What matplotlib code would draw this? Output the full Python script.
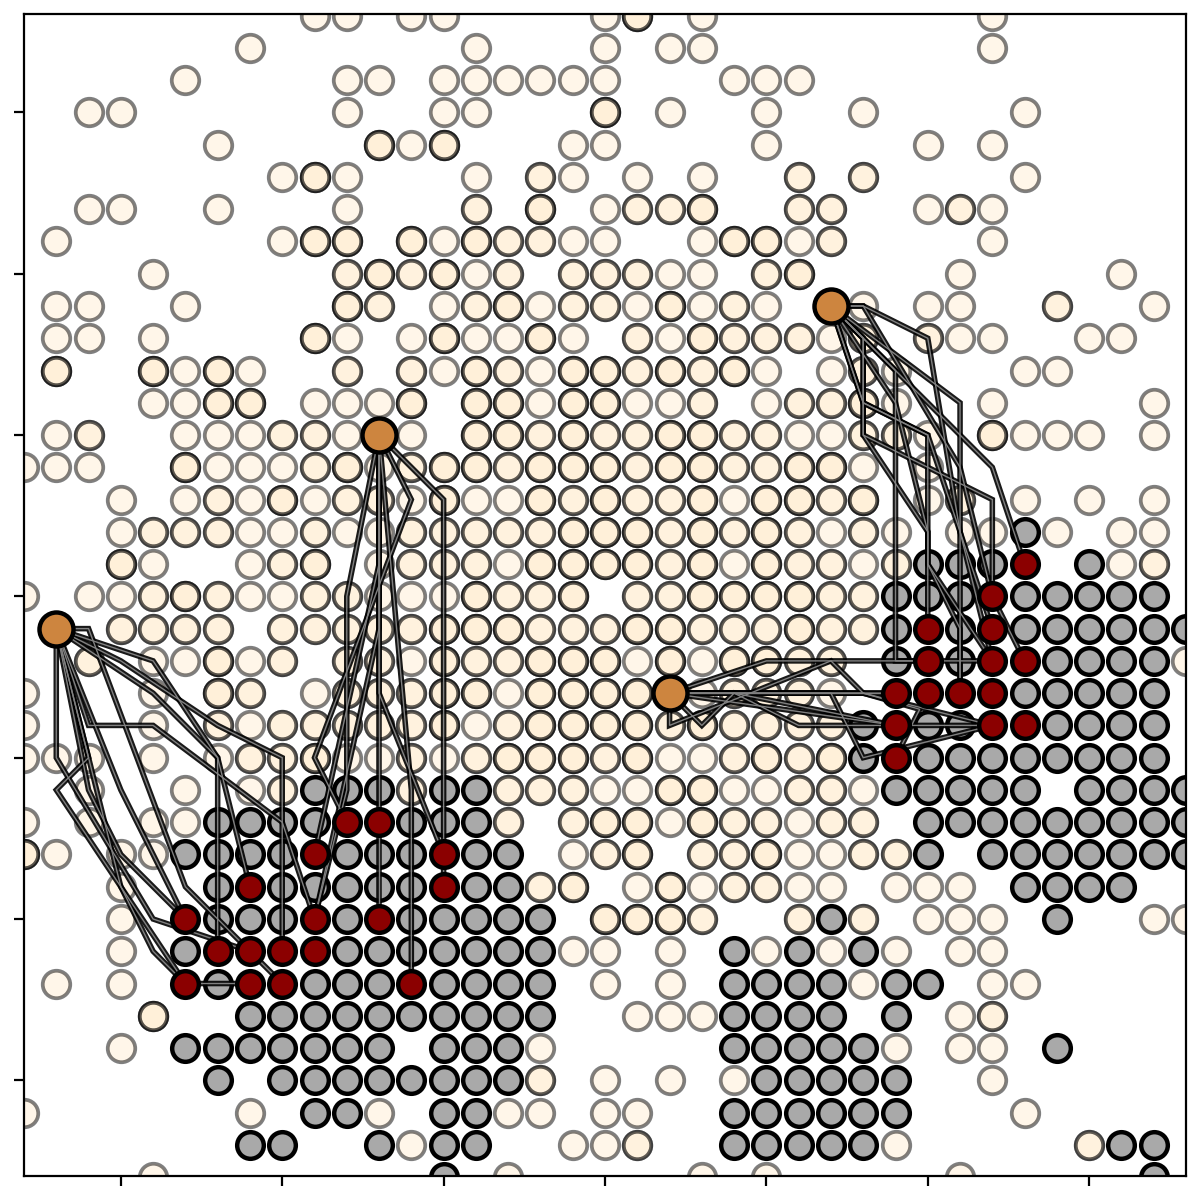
import matplotlib
matplotlib.use("Agg")
import matplotlib.pyplot as plt

# visited cells, row index -> column indices, by how many times they are overplotted
once = {
    38: [11, 12, 14, 15, 20, 23, 32],
    37: [9, 16, 20, 22, 23, 32],
    36: [7, 12, 13, 15, 16, 17, 18, 19, 20, 24, 25, 26],
    35: [4, 5, 12, 15, 16, 22, 25, 28, 33],
    34: [8, 14, 19, 20, 25, 30, 32],
    33: [10, 12, 16, 19, 21, 23, 33],
    32: [4, 5, 8, 12, 20, 30, 32],
    31: [3, 10, 15, 19, 20, 23, 26, 32],
    30: [6, 16, 22, 23, 31, 36],
    29: [3, 4, 7, 15, 18, 21, 23, 25, 28, 30, 31, 37],
    28: [3, 4, 6, 12, 14, 16, 17, 19, 22, 27, 31, 32, 35, 36],
    27: [7, 9, 15, 18, 25, 27, 29, 33, 34],
    26: [6, 7, 11, 12, 13, 18, 21, 22, 25, 29, 32, 37],
    25: [3, 7, 8, 9, 12, 14, 26, 27, 30, 33, 34, 35, 37],
    24: [2, 3, 4, 8, 9, 10, 13, 28, 30],
    23: [5, 7, 9, 11, 14, 16, 17, 24, 30, 33, 35, 37],
    22: [5, 9, 10, 12, 13, 27, 29, 31, 32, 34, 36, 37],
    21: [6, 9, 13, 17, 24, 28, 36],
    20: [2, 4, 5, 9, 10, 13, 14, 15],
    18: [6, 7, 9, 14, 21, 23, 38],
    17: [2, 6, 11, 17, 23, 27],
    16: [2, 6, 9, 16],
    15: [2, 3, 4, 6, 8, 12, 13, 15, 22, 23],
    14: [4, 7, 9, 20, 21, 24, 25, 28],
    13: [2, 4, 6, 7, 22, 26],
    12: [3, 5, 6, 19, 26, 27],
    11: [5, 21, 23, 26, 27, 29, 30, 31],
    10: [5, 30, 31, 32, 37, 38],
    9: [5, 19, 20, 22, 25, 27, 29, 31, 32],
    8: [3, 5, 20, 22, 28, 32, 33],
    7: [21, 22, 23, 31],
    6: [5, 18, 29, 31, 32],
    5: [20, 22, 24, 32],
    4: [2, 9, 13, 17, 18, 20, 21, 33],
    3: [14, 19, 20, 29],
    2: [6, 17, 23, 25, 31],
}
twice = {
    33: [18, 26, 28],
    32: [16, 21, 22, 26, 27, 31],
    31: [17, 18, 27],
    30: [12, 14, 17, 19, 20, 21, 25],
    29: [13, 16, 19, 20, 24, 34],
    28: [21, 24, 25, 26, 28, 30],
    27: [12, 14, 17, 21, 23, 28],
    26: [23, 26, 27],
    25: [4, 10, 11, 18, 20, 21, 24, 25, 28, 29],
    24: [11, 14, 17, 21, 24, 25],
    23: [8, 12, 13, 19, 21, 22, 27, 31],
    22: [6, 7, 8, 11, 14, 15, 16, 17, 18, 22, 24, 26, 28],
    21: [10, 14, 15, 16, 22, 26, 27, 29, 37],
    20: [6, 8, 11, 12, 17, 18, 21, 22, 27, 28],
    19: [5, 6, 7, 8, 10, 11, 12, 13, 14, 18, 19, 20, 23, 24, 25, 27, 28],
    18: [4, 10, 12, 13, 16, 17, 26, 27],
    17: [9, 12, 13, 14, 24, 25, 26],
    16: [8, 10, 11, 12, 13, 14, 17, 22, 24, 25, 26, 27],
    15: [9, 10, 14, 16, 20, 24, 26],
    14: [10, 14, 17, 18, 19, 26, 27],
    13: [17, 19, 24, 25, 27, 28],
    12: [20, 23, 24, 28, 29],
    11: [18, 24, 25],
    10: [23, 26, 28],
    7: [32],
    5: [18],
    3: [21, 35],
}
thrice = {
    38: [21],
    35: [20],
    34: [13, 15],
    33: [11],
    32: [18, 23],
    31: [11, 12, 14, 16, 24, 25],
    30: [13, 15, 26],
    29: [12, 17, 22],
    28: [11, 15, 18, 23],
    27: [3, 6, 8, 16, 19, 20, 22, 24],
    26: [8, 9, 14, 16, 17, 19, 20, 28],
    25: [16, 17, 19, 22, 23, 32],
    24: [7, 12, 15, 16, 18, 19, 20, 22, 23, 26, 27],
    23: [10, 15, 18, 20, 23, 25, 26, 28],
    22: [19, 20, 21, 23, 25],
    21: [5, 11, 18, 19, 20, 21, 23, 25],
    20: [7, 16, 19, 23, 24, 25, 26],
    19: [15, 16, 17, 21, 22, 26],
    18: [8, 15, 18, 19, 20, 22, 24, 25],
    17: [8, 15, 16, 18, 19, 20, 21],
    16: [15, 18, 19, 20, 21, 23],
    15: [11, 17, 18, 19, 21, 25, 27],
    14: [22, 23],
    13: [20, 21, 23],
    12: [2, 21, 25],
    11: [19, 22],
    10: [20, 21, 22],
    7: [6],
}
gray = {
    22: [33],
    21: [30, 31, 32, 35],
    20: [29, 30, 31, 33, 34, 35, 36, 37],
    19: [29, 31, 33, 34, 35, 36, 37, 38],
    18: [29, 31, 34, 35, 36, 37],
    17: [33, 34, 35, 36, 37],
    16: [28, 30, 31, 34, 35, 36, 37],
    15: [28, 30, 31, 32, 33, 34, 35, 36, 37],
    14: [11, 12, 13, 15, 16, 29, 30, 31, 32, 33, 35, 36, 37, 38],
    13: [8, 9, 10, 11, 14, 15, 16, 30, 31, 32, 33, 34, 35, 36, 37, 38],
    12: [7, 8, 9, 10, 12, 13, 14, 16, 17, 30, 32, 33, 34, 35, 36, 37, 38],
    11: [8, 10, 11, 12, 13, 14, 16, 17, 33, 34, 35, 36],
    10: [8, 9, 10, 12, 14, 15, 16, 17, 18, 27, 34],
    9: [7, 12, 13, 14, 15, 16, 17, 18, 24, 26, 28],
    8: [8, 11, 12, 13, 15, 16, 17, 18, 24, 25, 26, 27, 29, 30],
    7: [9, 10, 11, 12, 13, 14, 15, 16, 17, 18, 24, 25, 26, 27, 29],
    6: [7, 8, 9, 10, 11, 12, 13, 15, 16, 17, 24, 25, 26, 27, 28, 34],
    5: [8, 10, 11, 12, 13, 14, 15, 16, 17, 25, 26, 27, 28, 29],
    4: [11, 12, 15, 16, 24, 25, 26, 27, 28, 29],
    3: [9, 10, 13, 15, 16, 24, 25, 26, 27, 28, 36, 37],
    2: [15, 37],
}
red_x = [7, 7, 8, 9, 9, 9, 10, 10, 11, 11, 11, 12, 13, 13, 14, 15, 15,
         29, 29, 29, 30, 30, 30, 31, 32, 32, 32, 32, 32, 33, 33, 33]
red_y = [10, 8, 9, 11, 9, 8, 9, 8, 12, 10, 9, 13, 13, 10, 8, 12, 11,
         17, 16, 15, 19, 18, 17, 17, 20, 19, 18, 17, 16, 21, 18, 16]
agent_x = [3, 13, 22, 27]
agent_y = [19, 25, 17, 29]

paths = [
    # from (3, 19)
    [(3, 19), (3, 15), (6, 10), (9, 9)],
    [(3, 19), (4, 15), (3, 14), (7, 8), (9, 8)],
    [(3, 19), (4, 16), (6, 16), (10, 13), (11, 10)],
    [(3, 19), (4, 19), (7, 11), (10, 8)],
    [(3, 19), (6, 18), (8, 15), (8, 9)],
    [(3, 19), (6, 17), (8, 15), (9, 11)],
    [(3, 19), (5, 18), (8, 16), (10, 15), (10, 9)],
    [(3, 19), (5, 14), (7, 10)],
    [(3, 19), (4, 14), (5, 12), (7, 10)],
    [(3, 19), (5, 11), (6, 9), (7, 8)],
    # from (13, 25)
    [(13, 25), (13, 10)],
    [(13, 25), (12, 20), (12, 14), (11, 10)],
    [(13, 25), (14, 23), (11, 15), (12, 13)],
    [(13, 25), (15, 23), (15, 11)],
    [(13, 25), (14, 14), (14, 8)],
    [(13, 25), (13, 17), (15, 12)],
    [(13, 25), (13, 21), (11, 12)],
    [(13, 25), (13, 19), (11, 10)],
    # from (22, 17)
    [(22, 17), (29, 17)],
    [(22, 17), (25, 18), (32, 18)],
    [(22, 17), (22, 16), (27, 18), (28, 17), (29, 17)],
    [(22, 17), (23, 16), (24, 17), (26, 16), (32, 16)],
    [(22, 17), (27, 17), (28, 15), (32, 16)],
    [(22, 17), (28, 17), (29.75, 16.5), (29, 15)],
    [(22, 17), (29, 16)],
    [(22, 17), (24, 17), (29, 16)],
    [(22, 17), (28, 17), (32, 16)],
    # from (27, 29)
    [(27, 29), (31, 26), (31, 17)],
    [(27, 29), (29, 27), (29, 18), (30, 18)],
    [(27, 29), (28, 28), (28, 25), (32, 23), (32, 20)],
    [(27, 29), (28, 28), (28, 25), (30, 22), (30, 21), (31, 19), (31, 17)],
    [(27, 29), (28, 26), (30, 25), (30, 19)],
    [(27, 29), (28, 26), (30, 25), (32, 19)],
    [(27, 29), (32, 24), (33, 21)],
    [(27, 29), (28, 29), (30, 28), (31, 22), (32, 18)],
    [(27, 29), (29, 26), (30, 22), (30, 21), (32, 18)],
    [(27, 29), (28, 29), (31, 24), (32, 20), (33, 18)],
]
ticks = [5, 10, 15, 20, 25, 30, 35]


def cells(table):
    xs, ys = [], []
    for row, cols in table.items():
        for col in cols:
            xs.append(col)
            ys.append(row)
    return xs, ys


fig = plt.figure(figsize=(6, 6), dpi=200)
ax = fig.add_axes([24 / 1200, 1 - 1175.5 / 1200, 1162 / 1200, 1161.5 / 1200])

for table, copies in ((once, 1), (twice, 2), (thrice, 3)):
    xs, ys = cells(table)
    for _ in range(copies):
        ax.scatter(xs, ys, s=98, c="papayawhip", edgecolors="black",
                   linewidths=1.35, alpha=0.5, zorder=1)

xs, ys = cells(gray)
ax.scatter(xs, ys, s=92, c="darkgray", edgecolors="black", linewidths=1.6, zorder=2)

for path in paths:
    px = [p[0] for p in path]
    py = [p[1] for p in path]
    ax.plot(px, py, color="black", lw=2.0, alpha=0.9, zorder=3, solid_joinstyle="miter")
    ax.plot(px, py, color="gray", lw=0.5, zorder=3.1, solid_joinstyle="miter")

ax.scatter(red_x, red_y, s=92, c="darkred", edgecolors="black", linewidths=1.6, zorder=4)
ax.scatter(agent_x, agent_y, s=150, c="peru", edgecolors="black", linewidths=1.6, zorder=5)

ax.set_xlim(2.0, 38.0)
ax.set_ylim(2.05, 38.05)
ax.set_xticks(ticks)
ax.set_yticks(ticks)
ax.set_xticklabels([])
ax.set_yticklabels([])
fig.savefig("out.png", dpi=200)
